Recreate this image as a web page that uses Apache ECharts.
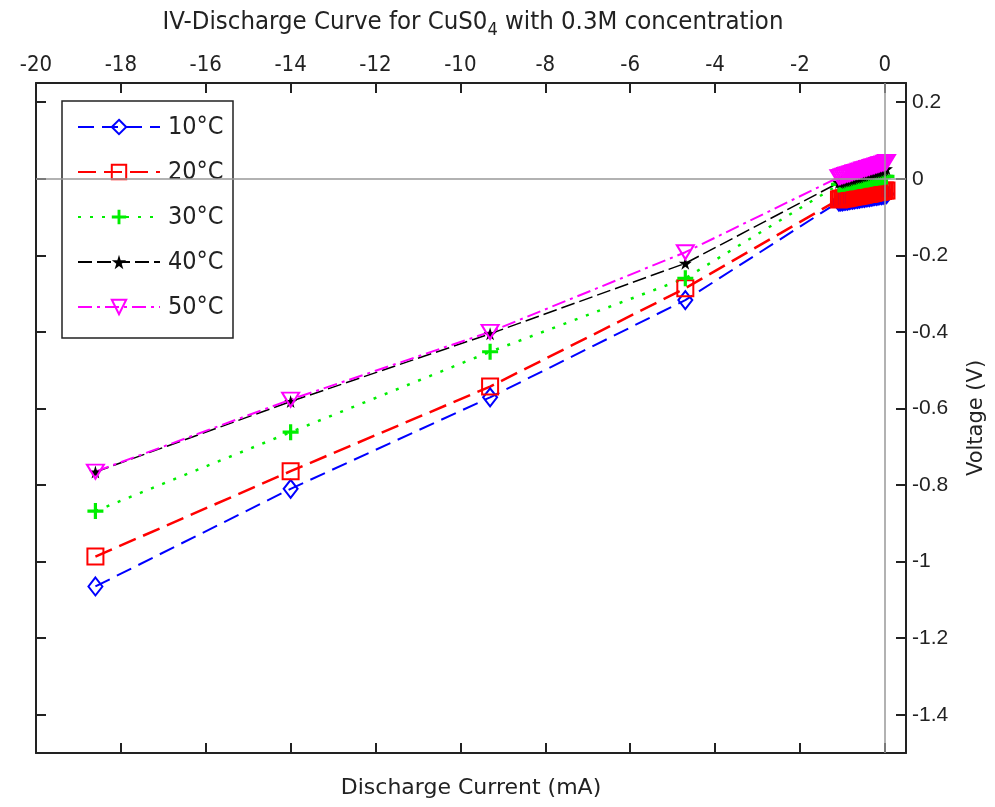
<!DOCTYPE html>
<html>
<head>
<meta charset="utf-8">
<script src="https://cdn.jsdelivr.net/npm/echarts@6/dist/echarts.min.js"></script>
<style>html,body{margin:0;padding:0;background:#fff}#c{width:995px;height:807px}</style>
</head>
<body>
<div id="c"></div>
<script>
// ---- data ----
var current = [-18.6, -14.0, -9.3, -4.7,
  -1.08, -1.04, -1.00, -0.96, -0.92, -0.88, -0.84, -0.80, -0.76, -0.72, -0.68, -0.64, -0.60, -0.56, -0.52,
  -0.48, -0.44, -0.40, -0.36, -0.32, -0.28, -0.24, -0.20, -0.16, -0.12, -0.08, -0.04, 0.00, 0.04];
var v10 = [-1.065, -0.810, -0.571, -0.317,
  -0.060, -0.059, -0.059, -0.058, -0.057, -0.057, -0.056, -0.055, -0.055, -0.054, -0.053, -0.053, -0.052, -0.051, -0.050,
  -0.050, -0.049, -0.048, -0.048, -0.047, -0.046, -0.045, -0.045, -0.044, -0.043, -0.043, -0.042, -0.041, -0.040];
var v20 = [-0.987, -0.764, -0.543, -0.286,
  -0.054, -0.053, -0.052, -0.051, -0.051, -0.050, -0.049, -0.048, -0.047, -0.046, -0.046, -0.045, -0.044, -0.043, -0.042,
  -0.041, -0.040, -0.040, -0.039, -0.038, -0.037, -0.036, -0.035, -0.035, -0.034, -0.033, -0.032, -0.031, -0.031];
var v30 = [-0.868, -0.662, -0.452, -0.260,
  -0.015, -0.014, -0.013, -0.013, -0.012, -0.011, -0.010, -0.009, -0.009, -0.008, -0.007, -0.006, -0.006, -0.005, -0.004,
  -0.003, -0.002, -0.002, -0.001, 0.000, 0.001, 0.002, 0.002, 0.003, 0.004, 0.004, 0.005, 0.006, 0.006];
var v40 = [-0.766, -0.582, -0.405, -0.221,
  -0.010, -0.009, -0.007, -0.006, -0.005, -0.004, -0.002, -0.001, 0.000, 0.002, 0.003, 0.004, 0.005, 0.007, 0.008,
  0.009, 0.011, 0.012, 0.013, 0.014, 0.016, 0.017, 0.018, 0.019, 0.021, 0.022, 0.023, 0.025, 0.026];
var v50 = [-0.765, -0.577, -0.400, -0.192,
  0.004, 0.005, 0.007, 0.008, 0.010, 0.011, 0.012, 0.014, 0.015, 0.017, 0.018, 0.019, 0.021, 0.022, 0.024,
  0.025, 0.026, 0.028, 0.029, 0.031, 0.032, 0.033, 0.035, 0.036, 0.038, 0.039, 0.040, 0.042, 0.044];
var seriesNames = ['10°C', '20°C', '30°C', '40°C', '50°C'];
var xTicks = [-20, -18, -16, -14, -12, -10, -8, -6, -4, -2, 0];
var yTicks = [-1.4, -1.2, -1.0, -0.8, -0.6, -0.4, -0.2, 0, 0.2];
var titleMain = 'IV-Discharge Curve for CuS0';
var titleSub = '4';
var titleRest = ' with 0.3M concentration';
var xName = 'Discharge Current (mA)';
var yName = 'Voltage (V)';

// ---- helpers ----
var NARROW = "'Liberation Sans Narrow','DejaVu Sans Condensed','Arial Narrow',sans-serif";
var REG = "'Liberation Sans',Arial,sans-serif";
var WIDE = "'DejaVu Sans',Verdana,sans-serif";
function pairs(xs, ys){ return xs.map(function(x,i){ return [x, ys[i]]; }); }

var chart = echarts.init(document.getElementById('c'), null, {renderer:'canvas'});

var axisLineStyle = {color:'#222', width:2};
function xAxisDef(pos, showLabel, name){
  return {
    type:'value', position:pos, min:-20, max:0.5,
    axisLine:{show:true, onZero:false, lineStyle:axisLineStyle},
    axisTick:{show:true, inside:true, length:10, lineStyle:{color:'#222', width:2}, customValues:xTicks},
    axisLabel:{show:showLabel, customValues:xTicks, margin:7, fontFamily:NARROW, fontSize:22, fontWeight:'normal', color:'#222',
      formatter:function(v){ return String(v); }},
    splitLine:{show:false},
    name:name, nameLocation:'middle', nameGap:24,
    nameTextStyle:{fontFamily:WIDE, fontSize:22, color:'#222'}
  };
}
function yAxisDef(pos, showLabel, name){
  return {
    type:'value', position:pos, min:-1.5, max:0.25,
    axisLine:{show:true, onZero:false, lineStyle:axisLineStyle},
    axisTick:{show:true, inside:true, length:10, lineStyle:{color:'#222', width:2}, customValues:yTicks},
    axisLabel:{show:showLabel, customValues:yTicks, margin:6, fontFamily:REG, fontSize:21, color:'#222',
      formatter:function(v){ return String(Math.round(v*10)/10); }},
    splitLine:{show:false},
    name:name, nameLocation:'middle', nameGap:60, nameRotate:90,
    nameTextStyle:{fontFamily:WIDE, fontSize:21, color:'#222'}
  };
}

var colors = ['#0000ff', '#ff0000', '#00ee00', '#000000', '#ff00ff'];
var symbols = [
  'diamond',
  'rect',
  'path://M4,0H6V4H10V6H6V10H4V6H0V4H4Z',
  'path://M50,0 L61,35 L98,35 L68,57 L79,91 L50,70 L21,91 L32,57 L2,35 L39,35 Z',
  'path://M0,0 L10,0 L5,9 Z'
];
var symSizes = [[14,18], 16, 16, 13, [17,14]];
var hollow = [true, true, false, false, true];
var dashes = [[16,8], [18,8], [3,9], [14,5], [14,5,3,5]];
var widths = [2, 2.5, 2.5, 1.5, 2];
var values = [v10, v20, v30, v40, v50];

var series = values.map(function(vals, i){
  return {
    name: seriesNames[i], type:'line', data:pairs(current, vals),
    xAxisIndex:0, yAxisIndex:0,
    symbol:symbols[i], symbolSize:symSizes[i], showAllSymbol:true,
    lineStyle:{color:colors[i], width:widths[i], type:dashes[i]},
    itemStyle: hollow[i] ? {color:'rgba(255,255,255,0)', borderColor:colors[i], borderWidth:2}
                         : {color:colors[i], borderWidth:0},
    emphasis:{disabled:true}, animation:false, z:3
  };
});
series.unshift({
  type:'line', data:[], xAxisIndex:0, yAxisIndex:0, silent:true, z:1,
  markLine:{silent:true, symbol:'none', animation:false,
    lineStyle:{color:'#999', type:'solid', width:1.5}, label:{show:false},
    data:[{xAxis:0},{yAxis:0}]}
});

var option = {
  backgroundColor:'#fff',
  animation:false,
  grid:{left:36, right:89, top:83, bottom:54, containLabel:false},
  xAxis:[xAxisDef('top', true, ''), xAxisDef('bottom', false, xName)],
  yAxis:[yAxisDef('right', true, yName), yAxisDef('left', false, '')],
  title:{
    text:'{t|'+titleMain+'}{s|'+titleSub+'}{t|'+titleRest+'}',
    left:468, top:1, textAlign:'center',
    textStyle:{fontWeight:'normal', rich:{
      t:{fontFamily:NARROW, fontSize:25.5, fontWeight:'normal', color:'#222'},
      s:{fontFamily:NARROW, fontSize:18, fontWeight:'normal', color:'#222', padding:[15,0,0,0]}
    }}
  },
  legend:{
    orient:'vertical', left:77, top:112, padding:0,
    itemWidth:82, itemHeight:18, itemGap:15,
    data:seriesNames,
    textStyle:{fontFamily:NARROW, fontSize:25, color:'#222', lineHeight:30, padding:[0,0,0,3]},
    selectedMode:false, z:5
  },
  graphic:[{
    type:'rect', z:4, shape:{x:62, y:101, width:171, height:237},
    style:{fill:'#fff', stroke:'#222', lineWidth:1.5}
  }],
  series:series
};
chart.setOption(option);
</script>
</body>
</html>
